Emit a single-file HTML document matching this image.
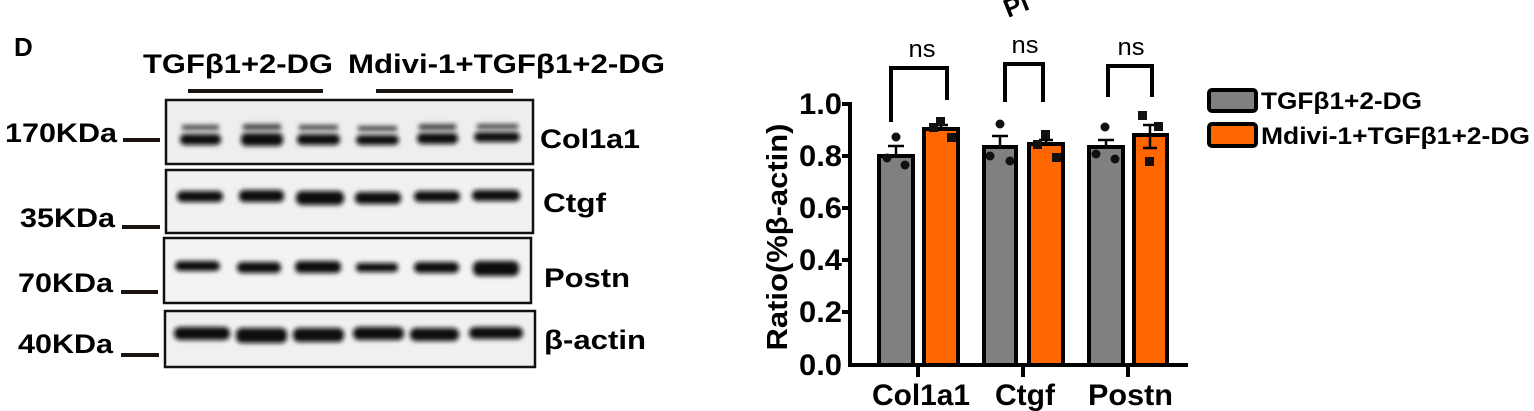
<!DOCTYPE html>
<html><head><meta charset="utf-8"><style>
html,body{margin:0;padding:0;background:#fff;}
svg{display:block;}
text{font-family:"Liberation Sans",Arial,sans-serif;}
</style></head><body>
<svg width="1534" height="411" viewBox="0 0 1534 411" xmlns="http://www.w3.org/2000/svg">
<defs>
<filter id="bl" x="-20%" y="-100%" width="140%" height="300%"><feGaussianBlur stdDeviation="2.5"/></filter>
</defs>
<!-- Western blot -->
<text x="14" y="56" font-size="26" font-weight="bold">D</text>
<text x="143" y="73" font-size="27" font-weight="bold" textLength="190" lengthAdjust="spacingAndGlyphs">TGFβ1+2-DG</text>
<text x="348" y="73" font-size="27" font-weight="bold" textLength="317" lengthAdjust="spacingAndGlyphs">Mdivi-1+TGFβ1+2-DG</text>
<rect x="188" y="89" width="135" height="4" fill="#1a1310"/>
<rect x="376" y="89" width="137" height="4" fill="#1a1310"/>

<rect x="167" y="101" width="365" height="62" fill="#eeeeee"/>
<rect x="167" y="171" width="365" height="61" fill="#f1f1f1"/>
<rect x="165" y="239" width="365" height="63" fill="#f3f3f3"/>
<rect x="166" y="312" width="368" height="54" fill="#f0f0f0"/>
<g filter="url(#bl)" fill="#0a0a0a">
<rect x="180" y="134" width="41" height="11" rx="5"/><rect x="241" y="133" width="42" height="13" rx="5"/><rect x="297" y="134" width="43" height="11" rx="5"/>
<rect x="356" y="135" width="43" height="10" rx="5"/><rect x="417" y="133" width="41" height="11" rx="5"/><rect x="474" y="132" width="46" height="10" rx="5"/>
</g>
<g filter="url(#bl)" fill="#444">
<rect x="182" y="125" width="37" height="5"/><rect x="243" y="124" width="38" height="6"/><rect x="299" y="125" width="39" height="5"/>
<rect x="358" y="126" width="39" height="5"/><rect x="419" y="124" width="37" height="6"/><rect x="477" y="124" width="41" height="5"/>
</g>
<g filter="url(#bl)" fill="#0a0a0a">
<rect x="177" y="191" width="46" height="11" rx="5"/><rect x="239" y="190" width="45" height="12" rx="5"/><rect x="296" y="191" width="48" height="14" rx="6"/>
<rect x="355" y="192" width="46" height="12" rx="5"/><rect x="414" y="191" width="46" height="11" rx="5"/><rect x="472" y="190" width="48" height="11" rx="5"/>
</g>
<g filter="url(#bl)" fill="#0a0a0a">
<rect x="175" y="261" width="45" height="10" rx="5"/><rect x="237" y="262" width="44" height="11" rx="5"/><rect x="295" y="261" width="46" height="12" rx="5"/>
<rect x="356" y="263" width="42" height="9" rx="4"/><rect x="414" y="262" width="45" height="11" rx="5"/><rect x="473" y="261" width="46" height="15" rx="6"/>
</g>
<g filter="url(#bl)" fill="#0a0a0a">
<rect x="174" y="327" width="56" height="13" rx="6"/><rect x="236" y="328" width="51" height="15" rx="6"/><rect x="293" y="328" width="51" height="14" rx="6"/>
<rect x="353" y="327" width="51" height="13" rx="6"/><rect x="410" y="328" width="49" height="13" rx="6"/><rect x="469" y="327" width="54" height="12" rx="6"/>
</g>
<g fill="none" stroke="#111" stroke-width="2.5">
<rect x="166" y="100" width="367" height="64"/>
<rect x="166" y="170" width="367" height="63"/>
<rect x="164" y="238" width="367" height="65"/>
<rect x="165" y="311" width="370" height="56"/>
</g>
<g font-size="27" font-weight="bold">
<text x="5" y="142" textLength="112" lengthAdjust="spacingAndGlyphs">170KDa</text>
<text x="20" y="227" textLength="95" lengthAdjust="spacingAndGlyphs">35KDa</text>
<text x="18" y="292" textLength="95" lengthAdjust="spacingAndGlyphs">70KDa</text>
<text x="18" y="353" textLength="95" lengthAdjust="spacingAndGlyphs">40KDa</text>
<text x="540" y="148" textLength="100" lengthAdjust="spacingAndGlyphs">Col1a1</text>
<text x="543" y="212" textLength="63" lengthAdjust="spacingAndGlyphs">Ctgf</text>
<text x="544" y="287" textLength="86" lengthAdjust="spacingAndGlyphs">Postn</text>
<text x="544" y="349" textLength="102" lengthAdjust="spacingAndGlyphs">β-actin</text>
</g>
<g fill="#1a1310">
<rect x="123" y="138" width="37" height="4"/>
<rect x="122" y="225" width="38" height="4"/>
<rect x="121" y="290" width="37" height="4"/>
<rect x="121" y="353" width="38" height="4"/>
</g>

<!-- Chart -->
<text x="1008" y="18" font-size="26" font-weight="bold" transform="rotate(-22 1008 18)">Pl</text>
<text transform="translate(787 237) rotate(-90)" text-anchor="middle" font-size="29" font-weight="bold" textLength="227" lengthAdjust="spacingAndGlyphs">Ratio(%β-actin)</text>
<g font-size="30" font-weight="bold" text-anchor="end">
<text x="842" y="114" textLength="43" lengthAdjust="spacingAndGlyphs">1.0</text>
<text x="842" y="166" textLength="43" lengthAdjust="spacingAndGlyphs">0.8</text>
<text x="842" y="218" textLength="43" lengthAdjust="spacingAndGlyphs">0.6</text>
<text x="842" y="270" textLength="43" lengthAdjust="spacingAndGlyphs">0.4</text>
<text x="842" y="322" textLength="43" lengthAdjust="spacingAndGlyphs">0.2</text>
<text x="842" y="375" textLength="43" lengthAdjust="spacingAndGlyphs">0.0</text>
</g>
<g stroke="#000" stroke-width="4">
<rect x="879" y="156" width="34" height="209" fill="#808080"/>
<rect x="924" y="129" width="34" height="236" fill="#ff6600"/>
<rect x="984" y="147" width="32" height="218" fill="#808080"/>
<rect x="1029" y="144" width="34" height="221" fill="#ff6600"/>
<rect x="1089" y="147" width="34" height="218" fill="#808080"/>
<rect x="1134" y="135" width="33" height="230" fill="#ff6600"/>
</g>
<g stroke="#000" stroke-width="2.5">
<line x1="896" y1="156" x2="896" y2="146"/><line x1="888" y1="146" x2="904" y2="146"/>
<line x1="941" y1="129" x2="941" y2="125"/><line x1="934" y1="125" x2="948" y2="125"/>
<line x1="1000" y1="147" x2="1000" y2="136"/><line x1="992" y1="136" x2="1008" y2="136"/>
<line x1="1046" y1="144" x2="1046" y2="140"/><line x1="1039" y1="140" x2="1053" y2="140"/>
<line x1="1106" y1="147" x2="1106" y2="140"/><line x1="1098" y1="140" x2="1114" y2="140"/>
<line x1="1150" y1="135" x2="1150" y2="125"/><line x1="1143" y1="125" x2="1157" y2="125"/>
<line x1="1150" y1="135" x2="1150" y2="148"/><line x1="1143" y1="148" x2="1157" y2="148"/>
</g>
<g fill="#111">
<circle cx="896" cy="137" r="4.5"/><circle cx="887" cy="158" r="4.5"/><circle cx="905" cy="165" r="4.5"/>
<rect x="936" y="117" width="9" height="9"/><rect x="929" y="123" width="9" height="9"/><rect x="947" y="133" width="9" height="9"/>
<circle cx="1000" cy="124" r="4.5"/><circle cx="990" cy="156" r="4.5"/><circle cx="1010" cy="161" r="4.5"/>
<rect x="1041" y="130" width="9" height="9"/><rect x="1033" y="140" width="9" height="9"/><rect x="1052" y="153" width="9" height="9"/>
<circle cx="1105" cy="127" r="4.5"/><circle cx="1096" cy="154" r="4.5"/><circle cx="1115" cy="159" r="4.5"/>
<rect x="1138" y="111" width="9" height="9"/><rect x="1154" y="122" width="9" height="9"/><rect x="1145" y="157" width="9" height="9"/>
</g>
<g stroke="#000" stroke-width="4" fill="none">
<polyline points="850,102 850,365 1188,365"/>
<line x1="842" y1="104" x2="850" y2="104"/><line x1="842" y1="156" x2="850" y2="156"/>
<line x1="842" y1="208" x2="850" y2="208"/><line x1="842" y1="260" x2="850" y2="260"/>
<line x1="842" y1="312" x2="850" y2="312"/>
<line x1="918" y1="365" x2="918" y2="377"/><line x1="1023" y1="365" x2="1023" y2="377"/><line x1="1128" y1="365" x2="1128" y2="377"/>
<polyline points="891,122 891,68 947,68 947,100"/>
<polyline points="1005,102 1005,64 1043,64 1043,102"/>
<polyline points="1108,97 1108,66 1152,66 1152,97"/>
</g>
<g font-size="24" text-anchor="middle">
<text x="922" y="57" textLength="27" lengthAdjust="spacingAndGlyphs">ns</text>
<text x="1025" y="53" textLength="27" lengthAdjust="spacingAndGlyphs">ns</text>
<text x="1131" y="55" textLength="27" lengthAdjust="spacingAndGlyphs">ns</text>
</g>
<g font-size="30" font-weight="bold">
<text x="872" y="405" textLength="98" lengthAdjust="spacingAndGlyphs">Col1a1</text>
<text x="995" y="405" textLength="60" lengthAdjust="spacingAndGlyphs">Ctgf</text>
<text x="1088" y="405" textLength="85" lengthAdjust="spacingAndGlyphs">Postn</text>
</g>
<rect x="1209" y="90" width="47" height="21" rx="3" fill="#808080" stroke="#000" stroke-width="4"/>
<rect x="1209" y="124" width="47" height="22" rx="3" fill="#ff6600" stroke="#000" stroke-width="4"/>
<g font-size="24" font-weight="bold">
<text x="1261" y="109" textLength="161" lengthAdjust="spacingAndGlyphs">TGFβ1+2-DG</text>
<text x="1261" y="144" textLength="269" lengthAdjust="spacingAndGlyphs">Mdivi-1+TGFβ1+2-DG</text>
</g>
</svg>
</body></html>
